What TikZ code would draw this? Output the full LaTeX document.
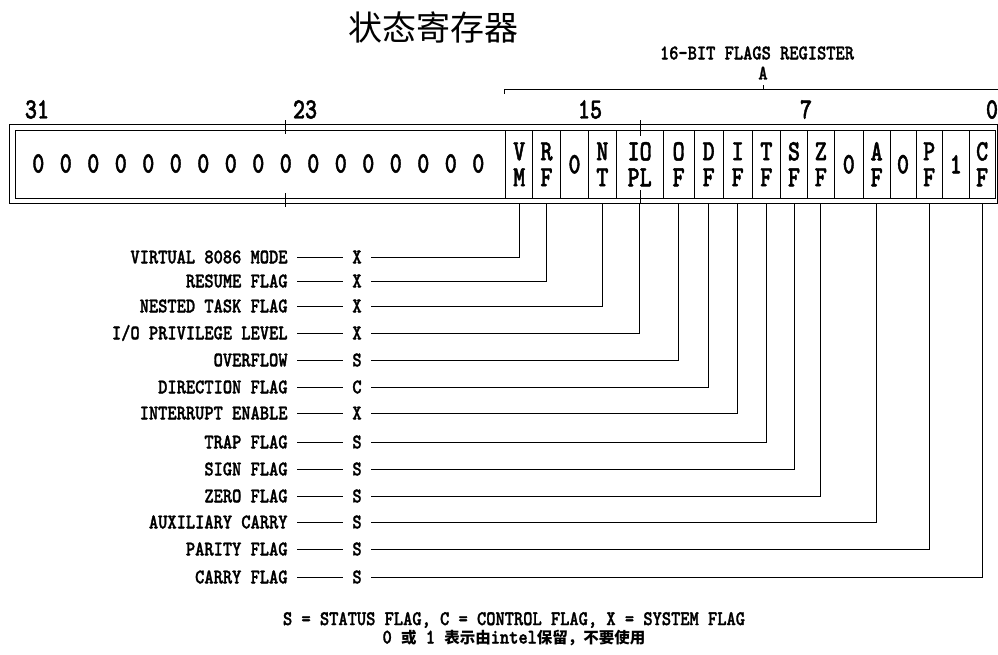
\documentclass[tikz,border=0pt]{standalone}
\usepackage{fontspec}
\newfontfamily\cjk{Noto Sans CJK SC}
\newfontfamily\lmb{lmmonolt10-bold.otf}[FakeBold=1.6]
\newcommand\lblfont{\fontsize{17.6}{19}\lmb}
\newcommand\bigfont{\fontsize{23}{26}\lmb}
\newcommand\nx[1]{\scalebox{1}[1.18]{#1}}
\newcommand\bx[1]{\scalebox{1}[1.28]{#1}}
\begin{document}
\begin{tikzpicture}[x=1pt,y=-1pt,line width=0.9pt,
  lbl/.style={font=\lblfont, inner ysep=0pt, inner xsep=9pt, anchor=east},
  flag/.style={font=\lblfont, inner ysep=0pt, inner xsep=9pt},
  big/.style={font=\bigfont, inner sep=0pt},
  cell/.style={draw, minimum height=67.5pt, inner sep=0pt, font=\bigfont, align=center},
  box/.style={draw, inner sep=0pt},
  tick/.style={line width=0.7pt},
  conn/.style={line width=0.9pt}]
\useasboundingbox (0,0) rectangle (998,654);

% title
\node[font=\fontsize{34}{34}\cjk, inner sep=0pt] (title) at (433,27) {状态寄存器};

% bracket for 16-bit flags
\node[font=\lblfont, inner sep=0pt] (hdr) at (757,53) {\nx{16-BIT FLAGS REGISTER}};
\node[font=\lblfont, inner sep=0pt] (hdrA) at (763,73) {\nx{A}};
\coordinate (brL) at (504,93.5);
\coordinate (brLt) at (504,89);
\coordinate (brR) at (998,89);
\coordinate (brM) at (763,89);
\coordinate (brMt) at (763,84.5);
\draw (brL) -- (brLt) -- (brR);
\draw (brM) -- (brMt);

% bit numbers
\node[big] (b31) at (37,109.5) {\bx{31}};
\node[big] (b23) at (305,109.5) {\bx{23}};
\node[big] (b15) at (590,109.5) {\bx{15}};
\node[big] (b7) at (806,109.5) {\bx{7}};
\node[big] (b0) at (992,109.5) {\bx{0}};

% boxes
\node[box, minimum width=988.5pt, minimum height=78.5pt] (outer) at (503.25,163.75) {};
\node[box, minimum width=979.5pt, minimum height=67.5pt] (inner) at (505.25,164.25) {};

% ticks
\draw[tick] (285,120) -- (285,134);
\draw[tick] (285,193) -- (285,207);
\draw[tick] (640,120) -- (640,136);
\draw[tick] (640,190) -- (640,203);

% reserved zeros
\foreach \i in {0,...,16}
  \node[big] (z\i) at ({38.3+27.5*\i},163.5) {\bx{0}};

% flag cells
\node[cell, minimum width=27pt]   (vm)   at (519.2,164.25)  {\bx{V}\\\bx{M}};
\node[cell, minimum width=27.6pt] (rf)   at (546.5,164.25)  {\bx{R}\\\bx{F}};
\node[cell, minimum width=28.4pt] (r14)  at (574.5,164.25)  {\bx{0}};
\node[cell, minimum width=27.3pt] (nt)   at (602.35,164.25) {\bx{N}\\\bx{T}};
\node[cell, minimum width=47.3pt] (iopl) at (639.65,164.25) {\bx{IO}\\\bx{PL}};
\node[cell, minimum width=30.7pt] (of)   at (678.65,164.25) {\bx{O}\\\bx{F}};
\node[cell, minimum width=29.3pt] (df)   at (708.65,164.25) {\bx{D}\\\bx{F}};
\node[cell, minimum width=28.7pt] (ief)  at (737.65,164.25) {\bx{I}\\\bx{F}};
\node[cell, minimum width=28.7pt] (tf)   at (766.35,164.25) {\bx{T}\\\bx{F}};
\node[cell, minimum width=26.6pt] (sf)   at (794,164.25)    {\bx{S}\\\bx{F}};
\node[cell, minimum width=27pt]   (zf)   at (820.8,164.25)  {\bx{Z}\\\bx{F}};
\node[cell, minimum width=29pt]   (r5)   at (848.8,164.25)  {\bx{0}};
\node[cell, minimum width=26.7pt] (af)   at (876.65,164.25) {\bx{A}\\\bx{F}};
\node[cell, minimum width=26pt]   (r3)   at (903,164.25)    {\bx{0}};
\node[cell, minimum width=26.3pt] (pf)   at (929.15,164.25) {\bx{P}\\\bx{F}};
\node[cell, minimum width=27pt]   (r1)   at (955.8,164.25)  {\bx{1}};
\node[cell, minimum width=25.7pt] (cf)   at (982.15,164.25) {\bx{C}\\\bx{F}};

% rows: label, class letter
\foreach \n/\y/\t/\k in {
  vm/257/{VIRTUAL 8086 MODE}/X,
  rf/281/{RESUME FLAG}/X,
  nt/306/{NESTED TASK FLAG}/X,
  iopl/333/{I/O PRIVILEGE LEVEL}/X,
  of/360/{OVERFLOW}/S,
  df/387/{DIRECTION FLAG}/C,
  ief/413/{INTERRUPT ENABLE}/X,
  tf/442/{TRAP FLAG}/S,
  sf/469/{SIGN FLAG}/S,
  zf/496/{ZERO FLAG}/S,
  af/522/{AUXILIARY CARRY}/S,
  pf/549/{PARITY FLAG}/S,
  cf/577/{CARRY FLAG}/S}
{
  \node[lbl] (l\n) at (297,\y) {\nx{\t}};
  \node[flag] (k\n) at (357,\y) {\nx{\k}};
  \draw[conn] (l\n.east) -- (k\n.west);
  \draw[conn] (\n.center |- outer.south) |- (k\n.east);
}

% legend
\node[font=\lblfont, inner sep=0pt] (leg1) at (514,620) {\nx{S = STATUS FLAG, C = CONTROL FLAG, X = SYSTEM FLAG}};
\node[font=\lblfont, inner sep=0pt] (leg2) at (514,638) {\nx{0 }{\fontsize{15.5}{16}\cjk\bfseries 或}\nx{ 1 }{\fontsize{15.5}{16}\cjk\bfseries 表示由}\nx{intel}{\fontsize{15.5}{16}\cjk\bfseries 保留，不要使用}};
\end{tikzpicture}
\end{document}
